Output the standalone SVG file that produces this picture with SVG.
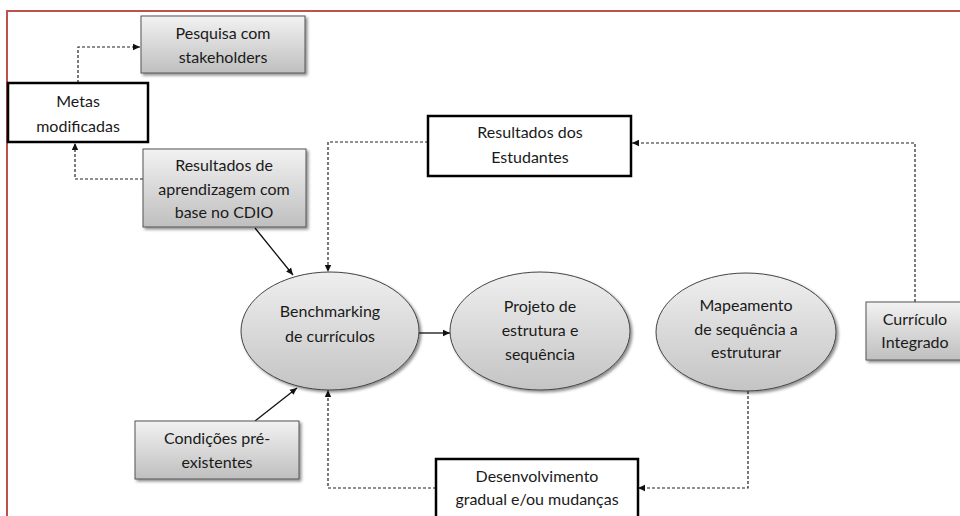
<svg xmlns="http://www.w3.org/2000/svg" width="960" height="516" viewBox="0 0 960 516">
<defs>
<linearGradient id="gbox" x1="0" y1="0" x2="0" y2="1">
<stop offset="0" stop-color="#f2f2f2"/>
<stop offset="1" stop-color="#bfbfbf"/>
</linearGradient>
<linearGradient id="gell" x1="0" y1="0" x2="0" y2="1">
<stop offset="0" stop-color="#efefef"/>
<stop offset="1" stop-color="#c4c4c4"/>
</linearGradient>
<filter id="sh" x="-10%" y="-10%" width="130%" height="140%">
<feGaussianBlur in="SourceAlpha" stdDeviation="1.5"/>
<feOffset dx="2" dy="2" result="b"/>
<feComponentTransfer><feFuncA type="linear" slope="0.45"/></feComponentTransfer>
<feMerge><feMergeNode/><feMergeNode in="SourceGraphic"/></feMerge>
</filter>
<marker id="ah" markerWidth="8" markerHeight="8" refX="7" refY="4" orient="auto" markerUnits="userSpaceOnUse">
<path d="M0,0.8 L7,4 L0,7.2 Z" fill="#111"/>
</marker>
</defs>
<style>
text{font-family:Lato,"Open Sans","Liberation Sans",sans-serif;font-size:16px;fill:#1a1a1a;text-anchor:middle}
.gray{fill:url(#gbox);stroke:#555;stroke-width:1;filter:url(#sh)}
.white{fill:#fff;stroke:#000;stroke-width:2.5}
.ell{fill:url(#gell);stroke:#444;stroke-width:1;filter:url(#sh)}
.dash{fill:none;stroke:#222;stroke-width:1.2;stroke-dasharray:3 2}
.solid{fill:none;stroke:#111;stroke-width:1.3}
</style>
<rect x="7" y="11" width="970" height="520" fill="none" stroke="#c0504d" stroke-width="2"/>

<g id="connectors">
<path class="dash" d="M78,83 V47 H140" marker-end="url(#ah)"/>
<path class="dash" d="M143,179 H75 V143" marker-end="url(#ah)"/>
<path class="dash" d="M428,142 H328 V272" marker-end="url(#ah)"/>
<path class="dash" d="M915,302 V143 H632" marker-end="url(#ah)"/>
<path class="dash" d="M748,391 V488 H638" marker-end="url(#ah)"/>
<path class="dash" d="M436,488 H328 V390" marker-end="url(#ah)"/>
<path class="solid" d="M255,228 L293,275" marker-end="url(#ah)"/>
<path class="solid" d="M255,421 L297,388" marker-end="url(#ah)"/>
<path class="solid" d="M419,333 H450" marker-end="url(#ah)"/>
</g>

<g id="pesquisa">
<rect class="gray" x="141" y="16" width="164" height="57"/>
<text x="223" y="39">Pesquisa com</text>
<text x="223" y="63">stakeholders</text>
</g>
<g id="metas">
<rect class="white" x="8" y="83" width="140" height="59"/>
<text x="78" y="107">Metas</text>
<text x="78" y="132">modificadas</text>
</g>
<g id="resultados-cdio">
<rect class="gray" x="143" y="149" width="163" height="78"/>
<text x="224" y="171">Resultados de</text>
<text x="224" y="195">aprendizagem com</text>
<text x="224" y="218">base no CDIO</text>
</g>
<g id="resultados-estudantes">
<rect class="white" x="428" y="116" width="203" height="60"/>
<text x="530" y="138">Resultados dos</text>
<text x="530" y="163">Estudantes</text>
</g>
<g id="benchmarking">
<ellipse class="ell" cx="330" cy="331" rx="89" ry="59"/>
<text x="330" y="317">Benchmarking</text>
<text x="330" y="342">de currículos</text>
</g>
<g id="projeto">
<ellipse class="ell" cx="540" cy="331" rx="90" ry="59"/>
<text x="540" y="312">Projeto de</text>
<text x="540" y="336">estrutura e</text>
<text x="540" y="360">sequência</text>
</g>
<g id="mapeamento">
<ellipse class="ell" cx="746" cy="332" rx="90" ry="59"/>
<text x="746" y="311">Mapeamento</text>
<text x="746" y="335">de sequência a</text>
<text x="746" y="358">estruturar</text>
</g>
<g id="curriculo">
<rect class="gray" x="866" y="302" width="100" height="58"/>
<text x="915" y="325">Currículo</text>
<text x="915" y="348">Integrado</text>
</g>
<g id="condicoes">
<rect class="gray" x="135" y="421" width="164" height="58"/>
<text x="217" y="444">Condições pré-</text>
<text x="217" y="468">existentes</text>
</g>
<g id="desenvolvimento">
<rect class="white" x="436" y="459" width="202" height="70"/>
<text x="537" y="482">Desenvolvimento</text>
<text x="537" y="505">gradual e/ou mudanças</text>
</g>
</svg>
